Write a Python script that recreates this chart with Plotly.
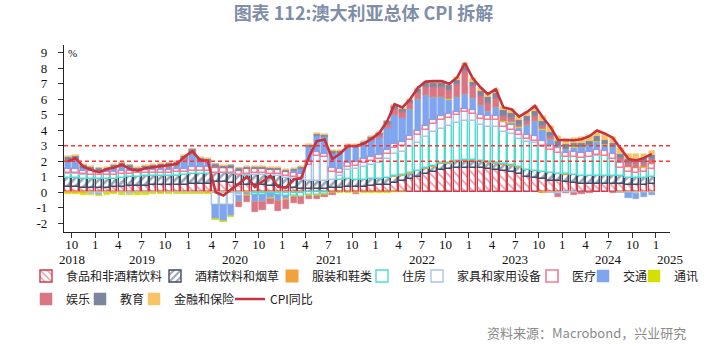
import pandas as pd
import plotly.graph_objects as go

# ---------------- data ----------------
months = pd.date_range("2018-09-01", "2024-12-01", freq="MS")  # 76 months

cpi = [2.0, 2.2, 1.65, 1.45,
       1.3, 1.5, 1.6, 1.78, 1.5, 1.4, 1.55, 1.63, 1.72, 1.75, 1.83, 2.3,
       2.65, 2.06, 2.04, 0.0, -0.2, 0.2, 0.55, 1.0, 0.35, 0.7, 1.07, 0.35,
       0.3, 0.85, 0.9, 2.3, 3.3, 3.41, 2.15, 2.5, 3.0, 2.97, 3.15, 3.45,
       3.84, 4.6, 5.68, 5.47, 6.0, 6.75, 7.14, 7.17, 7.17, 7.0, 7.41, 8.34,
       7.35, 6.76, 6.33, 6.65, 5.47, 5.36, 4.88, 5.18, 5.57, 4.85, 4.2, 3.38,
       3.36, 3.36, 3.42, 3.62, 3.99, 3.78, 3.52, 2.85, 2.15, 2.05, 2.22, 2.48]

food = [0.35, 0.35, 0.30, 0.30,
        0.30, 0.30, 0.32, 0.35, 0.38, 0.40, 0.42, 0.45, 0.45, 0.45, 0.48, 0.50,
        0.55, 0.55, 0.55, 0.65, 0.65, 0.60, 0.50, 0.45, 0.45, 0.45, 0.40, 0.40,
        0.30, 0.25, 0.20, 0.20, 0.20, 0.20, 0.25, 0.30, 0.35, 0.35, 0.35, 0.40,
        0.45, 0.50, 0.60, 0.70, 0.85, 1.00, 1.15, 1.30, 1.45, 1.50, 1.55, 1.60,
        1.60, 1.55, 1.50, 1.45, 1.35, 1.30, 1.15, 1.00, 0.95, 0.85, 0.75, 0.70,
        0.65, 0.60, 0.55, 0.55, 0.55, 0.55, 0.55, 0.55, 0.50, 0.50, 0.50, 0.55]

alcohol = [0.55, 0.55, 0.55, 0.55,
           0.55, 0.55, 0.55, 0.58, 0.60, 0.60, 0.60, 0.58, 0.58, 0.60, 0.60, 0.60,
           0.65, 0.65, 0.65, 0.60, 0.60, 0.60, 0.60, 0.60, 0.65, 0.65, 0.65, 0.65,
           0.60, 0.60, 0.60, 0.55, 0.55, 0.55, 0.55, 0.50, 0.50, 0.45, 0.45, 0.45,
           0.40, 0.40, 0.40, 0.35, 0.35, 0.35, 0.35, 0.35, 0.35, 0.35, 0.38, 0.40,
           0.40, 0.40, 0.40, 0.40, 0.42, 0.42, 0.45, 0.45, 0.45, 0.45, 0.48, 0.48,
           0.48, 0.50, 0.50, 0.50, 0.50, 0.50, 0.48, 0.48, 0.45, 0.45, 0.45, 0.45]

clothing = [-0.02, -0.02, -0.03, -0.03,
            -0.05, -0.04, -0.03, -0.02, -0.03, -0.02, -0.02, -0.02, -0.02, -0.03, -0.02, -0.02,
            -0.02, -0.03, -0.02, -0.05, -0.05, -0.04, -0.05, -0.03, -0.05, -0.05, -0.04, -0.04,
            -0.04, -0.04, -0.03, 0.00, 0.00, 0.00, 0.00, 0.02, 0.02, 0.02, 0.02, 0.03,
            0.03, 0.03, 0.05, 0.05, 0.05, 0.05, 0.05, 0.06, 0.06, 0.06, 0.06, 0.07,
            0.07, 0.06, 0.05, 0.05, 0.04, 0.03, 0.02, 0.02, 0.00, -0.03, -0.05, -0.03,
            0.02, 0.00, 0.02, 0.02, 0.02, 0.00, 0.00, -0.02, -0.02, -0.03, -0.02, -0.02]

housing = [0.30, 0.30, 0.28, 0.28,
           0.25, 0.25, 0.25, 0.22, 0.22, 0.22, 0.22, 0.20, 0.20, 0.20, 0.20, 0.20,
           0.20, 0.20, 0.18, 0.00, 0.00, 0.05, -0.05, 0.05, -0.10, -0.15, -0.10, -0.15,
           -0.20, -0.20, -0.25, -0.20, -0.20, -0.10, 0.00, 0.25, 0.55, 0.70, 0.80, 0.85,
           1.00, 1.20, 1.40, 1.50, 1.65, 1.80, 2.00, 2.15, 2.25, 2.35, 2.45, 2.55,
           2.50, 2.30, 2.25, 2.30, 2.05, 2.00, 1.80, 1.75, 1.75, 1.65, 1.50, 1.35,
           1.10, 1.15, 1.15, 1.20, 1.30, 1.30, 1.10, 0.55, 0.35, 0.30, 0.35, 0.50]

furnish = [0.05, 0.03, 0.02, -0.05,
           -0.05, -0.03, 0.00, -0.03, -0.05, -0.05, -0.04, -0.03, 0.00, -0.02, -0.03, -0.03,
           -0.02, -0.02, 0.00, -0.80, -0.80, -0.75, -0.15, 0.10, 0.15, 0.15, 0.15, 0.15,
           0.15, 0.15, 0.15, 1.00, 1.60, 1.50, 0.50, 0.20, 0.20, 0.20, 0.25, 0.30,
           0.30, 0.35, 0.40, 0.40, 0.45, 0.50, 0.50, 0.55, 0.55, 0.55, 0.55, 0.55,
           0.50, 0.45, 0.45, 0.45, 0.35, 0.30, 0.25, 0.20, 0.15, 0.05, -0.02, -0.05,
           -0.05, -0.05, 0.00, 0.00, 0.02, 0.00, 0.00, -0.03, -0.05, -0.05, -0.03, -0.02]

health = [0.25, 0.25, 0.25, 0.25,
          0.22, 0.22, 0.22, 0.22, 0.20, 0.20, 0.20, 0.20, 0.20, 0.20, 0.20, 0.20,
          0.25, 0.25, 0.25, 0.30, 0.30, 0.30, 0.30, 0.30, 0.25, 0.25, 0.25, 0.25,
          0.25, 0.25, 0.25, 0.25, 0.25, 0.25, 0.25, 0.25, 0.25, 0.25, 0.25, 0.25,
          0.25, 0.25, 0.25, 0.25, 0.25, 0.25, 0.25, 0.25, 0.25, 0.22, 0.22, 0.22,
          0.25, 0.25, 0.25, 0.30, 0.30, 0.30, 0.30, 0.30, 0.30, 0.30, 0.30, 0.30,
          0.30, 0.32, 0.32, 0.32, 0.32, 0.32, 0.32, 0.32, 0.32, 0.32, 0.30, 0.30]

transport = [0.55, 0.60, 0.15, 0.05,
             -0.05, 0.05, 0.15, 0.25, 0.15, 0.00, 0.05, 0.10, 0.12, 0.15, 0.20, 0.55,
             0.75, 0.35, 0.25, -0.90, -1.00, -0.75, -0.35, -0.15, -0.45, -0.40, -0.25, -0.35,
             -0.20, 0.10, 0.30, 0.90, 1.00, 1.05, 0.95, 1.00, 1.00, 0.95, 1.00, 1.05,
             1.10, 1.40, 1.90, 1.55, 1.80, 2.05, 1.95, 1.50, 1.25, 0.95, 0.95, 0.95,
             0.75, 0.60, 0.35, 0.55, 0.05, 0.15, 0.20, 0.60, 1.00, 0.75, 0.40, 0.15,
             0.25, 0.30, 0.35, 0.45, 0.55, 0.40, 0.45, 0.10, -0.30, -0.35, -0.25, -0.15]

comms = [-0.12, -0.12, -0.12, -0.12,
         -0.12, -0.10, -0.10, -0.10, -0.10, -0.10, -0.10, -0.08, -0.08, -0.08, -0.08, -0.08,
         -0.08, -0.08, -0.08, -0.06, -0.06, -0.06, -0.05, -0.05, -0.05, -0.05, -0.05, -0.05,
         -0.05, -0.05, -0.05, -0.05, -0.05, -0.05, -0.05, -0.05, -0.03, -0.03, -0.03, -0.03,
         -0.02, -0.02, -0.01, -0.01, 0.00, 0.00, 0.01, 0.01, 0.01, 0.01, 0.01, 0.01,
         0.02, 0.02, 0.02, 0.02, 0.02, 0.02, 0.02, 0.02, 0.02, 0.02, 0.02, 0.02,
         0.02, 0.02, 0.02, 0.02, 0.02, 0.02, 0.02, 0.02, 0.02, 0.02, 0.02, 0.02]

recreation = [0.05, 0.10, 0.05, 0.05,
              0.05, 0.05, 0.10, 0.10, 0.00, 0.00, 0.05, 0.05, 0.10, 0.10, 0.10, 0.15,
              0.20, 0.05, 0.10, 0.10, 0.00, 0.05, -0.30, -0.40, -0.60, -0.50, -0.30, -0.60,
              -0.60, -0.40, -0.45, -0.20, -0.20, -0.15, -0.15, 0.00, 0.05, -0.05, 0.00, 0.10,
              0.15, 0.25, 0.35, 0.40, 0.35, 0.40, 0.55, 0.65, 0.65, 0.60, 0.80, 1.50,
              0.75, 0.55, 0.50, 0.55, 0.35, 0.25, 0.15, 0.25, 0.30, 0.20, 0.15, -0.20,
              -0.02, -0.10, -0.10, -0.05, 0.05, 0.00, -0.05, 0.20, 0.25, 0.30, 0.30, 0.30]

education = [0.18, 0.18, 0.18, 0.18,
             0.18, 0.18, 0.18, 0.18, 0.18, 0.18, 0.18, 0.18, 0.17, 0.17, 0.17, 0.17,
             0.17, 0.17, 0.17, 0.15, 0.15, 0.15, 0.15, 0.15, 0.15, 0.15, 0.15, 0.15,
             0.15, 0.15, 0.15, 0.15, 0.15, 0.15, 0.15, 0.15, 0.15, 0.15, 0.15, 0.15,
             0.15, 0.20, 0.20, 0.20, 0.20, 0.25, 0.25, 0.25, 0.25, 0.30, 0.30, 0.30,
             0.30, 0.35, 0.35, 0.35, 0.35, 0.35, 0.30, 0.30, 0.30, 0.30, 0.30, 0.30,
             0.30, 0.28, 0.28, 0.28, 0.28, 0.28, 0.28, 0.28, 0.28, 0.28, 0.28, 0.28]

insurance = [0.06, 0.06, 0.06, 0.06,
             0.05, 0.05, 0.05, 0.05, 0.05, 0.05, 0.05, 0.05, 0.04, 0.04, 0.04, 0.04,
             0.04, 0.04, 0.04, 0.04, 0.04, 0.04, 0.04, 0.04, 0.04, 0.05, 0.05, 0.05,
             0.05, 0.05, 0.05, 0.05, 0.05, 0.05, 0.05, 0.05, 0.05, 0.05, 0.05, 0.05,
             0.05, 0.05, 0.05, 0.05, 0.05, 0.05, 0.08, 0.10, 0.10, 0.12, 0.14, 0.18,
             0.20, 0.22, 0.22, 0.25, 0.25, 0.28, 0.30, 0.32, 0.33, 0.33, 0.35, 0.35,
             0.35, 0.35, 0.35, 0.35, 0.35, 0.35, 0.35, 0.33, 0.30, 0.30, 0.30, 0.28]

tick_dates = ["2018-10-01"] + [f"{y}-{m:02d}-01" for y in range(2019, 2025) for m in (1, 4, 7, 10)] + ["2025-01-01"]
tick_text = ["10"] + ["1", "4", "7", "10"] * 6 + ["1"]
year_labels = ["2018", "2019", "2020", "2021", "2022", "2023", "2024", "2025"]
year_pos = ["2018-10-01", "2019-07-01", "2020-07-01", "2021-07-01",
            "2022-07-01", "2023-07-01", "2024-07-01", "2025-02-25"]

# ---------------- styling ----------------
x = months + pd.Timedelta(days=15)
bar_w = 25 * 86400000
cjk = "Noto Sans CJK SC"
serif = "Liberation Serif"

series = [
    ("食品和非酒精饮料", food, dict(color="white", line=dict(color="#cf3a4c", width=1.4),
                              pattern=dict(shape="\\", fgcolor="#cf3a4c", bgcolor="white", size=6, solidity=0.3))),
    ("酒精饮料和烟草", alcohol, dict(color="white", line=dict(color="#3f4b66", width=1.4),
                             pattern=dict(shape="/", fgcolor="#3f4b66", bgcolor="white", size=6, solidity=0.45))),
    ("服装和鞋类", clothing, dict(color="#f2a23a", line=dict(color="#f2a23a", width=1))),
    ("住房", housing, dict(color="white", line=dict(color="#4fdcd0", width=1.4))),
    ("家具和家用设备", furnish, dict(color="white", line=dict(color="#a9c6e6", width=1.4))),
    ("医疗", health, dict(color="white", line=dict(color="#f27b96", width=1.6))),
    ("交通", transport, dict(color="#7fa5ee", line=dict(color="#7fa5ee", width=0.5))),
    ("通讯", comms, dict(color="#d6e000", line=dict(color="#d6e000", width=0.5))),
    ("娱乐", recreation, dict(color="#da7584", line=dict(color="#da7584", width=0.5))),
    ("教育", education, dict(color="#7c859c", line=dict(color="#7c859c", width=0.5))),
    ("金融和保险", insurance, dict(color="#f8c266", line=dict(color="#f8c266", width=0.5))),
]

# plot area in px: left 64, right 670, top 45, bottom 232
L, R, T, B = 64, 670, 45, 232
W, H = 727, 348
def px2x(p):
    return (p - L) / (R - L)
def py2y(p):
    return (B - p) / (B - T)

# legend symbol centres (px)
legend_pos = [(46, 276), (175, 276), (292, 276), (382, 276), (437, 276), (552, 276),
              (603, 276), (654, 276), (46, 299), (100, 299), (154, 299), (250, 299)]

fig = go.Figure()
layout_legends = {}
for i, (name, vals, mk) in enumerate(series):
    lg = "legend" if i == 0 else f"legend{i + 1}"
    fig.add_trace(go.Bar(x=x, y=vals, name=name, marker=mk, width=bar_w, legend=lg))
fig.add_trace(go.Scatter(x=x, y=cpi, name="CPI同比", mode="lines",
                         line=dict(color="#c8323f", width=2.6), legend="legend12"))

for i, (cx, cy) in enumerate(legend_pos):
    key = "legend" if i == 0 else f"legend{i + 1}"
    layout_legends[key] = dict(
        x=px2x(cx - 20), y=py2y(cy), xanchor="left", yanchor="middle",
        orientation="h", bgcolor="rgba(0,0,0,0)", borderwidth=0,
        font=dict(family=cjk, size=12, color="#222222"), itemwidth=30)

fig.update_layout(
    width=W, height=H,
    margin=dict(l=L, r=W - R, t=T, b=H - B),
    paper_bgcolor="white", plot_bgcolor="white",
    barmode="relative", bargap=0,
    showlegend=True,
    title=dict(text="<b>图表 112:澳大利亚总体 CPI 拆解</b>", x=0.5, xref="container", y=1 - 14 / H,
               yanchor="middle", xanchor="center",
               font=dict(family=cjk, size=18, color="#7f8ea8")),
    **layout_legends,
)

fig.update_xaxes(
    type="date", range=["2018-09-01", "2025-02-25"],
    tickmode="array", tickvals=tick_dates, ticktext=tick_text,
    ticks="", showline=True, linecolor="#222", linewidth=1.2, showgrid=False, zeroline=False,
    tickfont=dict(family=serif, size=13, color="#111"),
    minor=dict(tickmode="array", tickvals=tick_dates, ticks="outside", ticklen=5,
               tickcolor="#333", tickwidth=1, showgrid=False),
)
fig.update_yaxes(
    range=[-2.56, 9.5], tickmode="array", tickvals=list(range(-2, 10)),
    ticktext=[str(v) for v in range(-2, 10)],
    ticks="outside", ticklen=5, tickcolor="#333", ticklabelstandoff=8,
    showline=True, linecolor="#222", linewidth=1.2, showgrid=False, zeroline=False,
    tickfont=dict(family=serif, size=13, color="#111"),
)

for lvl in (2, 3):
    fig.add_shape(type="line", xref="paper", x0=0, x1=1, yref="y", y0=lvl, y1=lvl,
                  line=dict(color="#ff3535", width=1.6, dash="4px,3px"), layer="above")

fig.add_annotation(text="%", xref="paper", yref="paper", x=px2x(72), y=py2y(53),
                   xanchor="center", yanchor="middle",
                   showarrow=False, font=dict(family=serif, size=11, color="#111"))
for lab, pos in zip(year_labels, year_pos):
    fig.add_annotation(text=lab, x=pos, xref="x", yref="paper", y=py2y(259),
                       xanchor="center", yanchor="middle",
                       showarrow=False, font=dict(family=serif, size=13, color="#111"))
fig.add_annotation(text="资料来源：Macrobond，兴业研究", xref="paper", yref="paper",
                   x=px2x(688), y=py2y(332), xanchor="right", yanchor="middle",
                   showarrow=False, font=dict(family=cjk, size=13, color="#8a8a8a"))

fig.write_html("out.html")
